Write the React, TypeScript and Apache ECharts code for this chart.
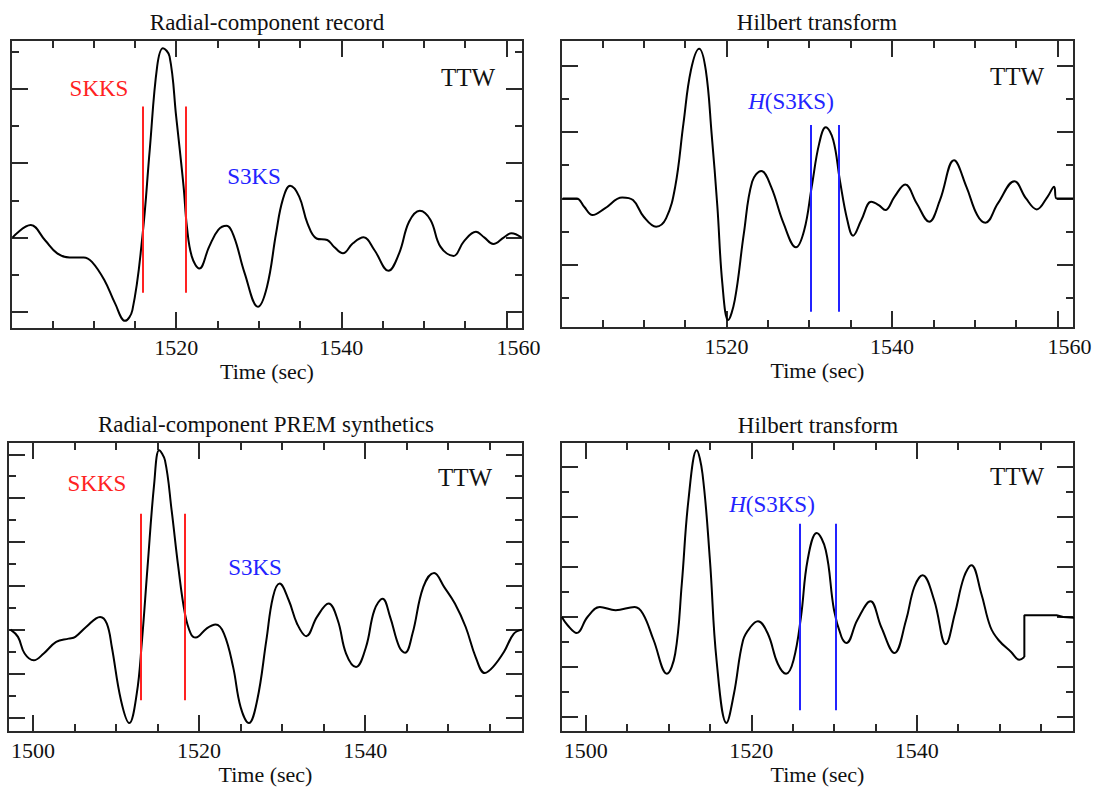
import React, { useEffect, useRef } from "react";
import * as echarts from "echarts";

const FONT = '"Liberation Serif", "Times New Roman", serif';

// ---------- data (time in s, amplitude in tick units) ----------
const panelTitles = [
  "Radial-component record",
  "Hilbert transform",
  "Radial-component PREM synthetics",
  "Hilbert transform",
];

const recordTrace: [number, number][] = [
  [1500.2, 0], [1502.4, 0.33], [1504.1, -0.07], [1505.6, -0.43], [1507.1, -0.54],
  [1508.8, -0.54], [1509.8, -0.66], [1511.3, -1.15], [1512.6, -1.78], [1513.8, -2.25],
  [1514.7, -1.96], [1515.9, 0], [1516.8, 2.36], [1517.7, 4.61], [1518.4, 5.1],
  [1519.2, 4.88], [1520.0, 3.26], [1520.9, 1.37], [1521.3, 0.29], [1521.9, -0.52],
  [1522.8, -0.84], [1524.0, -0.25], [1525.1, 0.2], [1526.1, 0.31], [1527.0, 0.02],
  [1528.3, -0.97], [1529.9, -1.87], [1531.0, -1.33], [1532.1, 0.11], [1532.9, 1.01],
  [1533.8, 1.39], [1534.9, 1.1], [1535.9, 0.38], [1537.0, -0.03], [1538.3, -0.07],
  [1539.1, -0.25], [1540.2, -0.43], [1541.4, -0.16], [1542.7, 0], [1544.0, -0.34],
  [1545.7, -0.9], [1547.0, -0.43], [1548.2, 0.42], [1549.5, 0.72], [1550.8, 0.47],
  [1552.0, -0.25], [1553.6, -0.5], [1554.8, -0.12], [1556.3, 0.15], [1557.3, 0],
  [1558.4, -0.18], [1559.7, 0], [1560.6, 0.11], [1561.8, 0],
];

const recordHilbertTrace: [number, number][] = [
  [1500.2, 0], [1501.9, 0], [1502.8, -0.25], [1503.8, -0.5], [1505.3, -0.3],
  [1507.4, 0.03], [1508.7, -0.05], [1510.0, -0.55], [1511.5, -0.85], [1512.7, -0.6],
  [1513.8, 0.35], [1514.8, 2.26], [1515.7, 3.86], [1516.7, 4.51], [1517.5, 3.86],
  [1518.2, 1.96], [1518.9, -0.25], [1519.5, -2.56], [1520.2, -3.66], [1521.0, -3.06],
  [1522.1, -1.05], [1523.1, 0.5], [1524.2, 0.83], [1525.4, 0.35], [1526.9, -0.75],
  [1528.4, -1.47], [1529.4, -0.95], [1530.3, 0.35], [1531.2, 1.65], [1532.0, 2.14],
  [1532.9, 1.76], [1533.7, 0.55], [1534.6, -0.65], [1535.3, -1.12], [1536.3, -0.65],
  [1537.5, -0.1], [1538.4, -0.2], [1539.2, -0.35], [1540.3, 0.05], [1541.6, 0.42],
  [1543.0, -0.15], [1544.5, -0.7], [1545.8, -0.05], [1547.5, 1.15], [1549.0, 0.35],
  [1550.3, -0.5], [1551.3, -0.73], [1552.8, -0.15], [1554.8, 0.52], [1556.2, 0],
  [1557.5, -0.33], [1558.8, 0.05], [1559.6, 0.35], [1559.9, 0], [1561.9, 0],
];

const synthTrace: [number, number][] = [
  [1497.3, 0], [1498.2, -0.33], [1499.0, -1.09], [1500.1, -1.4], [1501.3, -1.09],
  [1502.8, -0.56], [1504.3, -0.41], [1505.1, -0.33], [1506.4, 0.12], [1508.1, 0.58],
  [1508.9, 0.27], [1509.5, -0.79], [1510.6, -3.22], [1511.6, -4.26], [1512.5, -2.92],
  [1513.1, -0.64], [1513.8, 2.86], [1514.6, 6.66], [1515.2, 8.18], [1515.9, 7.72],
  [1516.7, 5.44], [1517.5, 2.86], [1518.3, 0.73], [1519.0, -0.18], [1519.6, -0.36],
  [1520.9, 0.05], [1522.0, 0.23], [1523.0, -0.18], [1524.1, -1.7], [1525.0, -3.53],
  [1526.0, -4.26], [1527.0, -3.22], [1528.1, -0.49], [1528.9, 1.49], [1529.7, 2.1],
  [1530.8, 1.34], [1531.8, 0.27], [1532.9, -0.3], [1534.2, 0.58], [1535.6, 1.19],
  [1536.7, 0.43], [1537.7, -1.09], [1538.9, -1.7], [1540.1, -0.79], [1541.1, 0.88],
  [1542.1, 1.41], [1543.0, 0.58], [1544.1, -0.79], [1544.8, -1.06], [1545.7, -0.18],
  [1547.0, 1.95], [1548.3, 2.58], [1549.5, 1.95], [1550.8, 1.19], [1552.1, 0.12],
  [1553.3, -1.25], [1554.4, -1.98], [1555.4, -1.7], [1556.7, -1.02], [1557.9, -0.18],
  [1558.9, 0],
];

const synthHilbertTrace: [number, number][] = [
  [1497.1, 0], [1497.8, -0.33], [1498.9, -0.64], [1500.2, 0], [1501.7, 0.4],
  [1503.6, 0.27], [1505.9, 0.4], [1506.9, 0.13], [1508.2, -0.93], [1509.8, -2.27],
  [1510.8, -1.47], [1511.6, 1.33], [1512.4, 4.67], [1513.4, 6.67], [1514.1, 5.73],
  [1515.0, 2.27], [1515.8, -1.73], [1517.0, -4.24], [1517.9, -3.07], [1519.0, -0.93],
  [1519.9, -0.4], [1520.8, -0.17], [1522.0, -0.67], [1523.2, -1.87], [1524.2, -2.27],
  [1525.1, -1.73], [1526.0, 0], [1526.8, 2.27], [1527.9, 3.36], [1529.0, 2.67],
  [1530.0, 0.27], [1530.9, -0.8], [1531.5, -1.04], [1532.8, -0.13], [1534.4, 0.63],
  [1535.7, -0.4], [1537.3, -1.44], [1538.7, -0.13], [1539.7, 1.2], [1540.7, 1.67],
  [1542.1, 0.67], [1543.5, -1.09], [1544.6, 0.13], [1545.7, 1.6], [1546.6, 2.07],
  [1547.8, 0.93], [1548.9, -0.4], [1549.9, -0.93], [1551.4, -1.4], [1552.4, -1.71],
  [1553.0, -1.6],
];

const synthHilbertTail: [number, number][] = [
  [1553.0, -1.6], [1553.0, 0.07], [1556.9, 0.07], [1557.7, 0], [1559.0, -0.03],
];

// phase window markers: [time, lowAmp, highAmp]
const recordSKKSWindow: [number, number, number][] = [[1515.9, -1.49, 3.53], [1521.2, -1.49, 3.53]];
const recordHS3KSWindow: [number, number, number][] = [[1530.2, -3.41, 2.21], [1533.6, -3.41, 2.21]];
const synthSKKSWindow: [number, number, number][] = [[1513.0, -3.22, 5.29], [1518.3, -3.22, 5.29]];
const synthHS3KSWindow: [number, number, number][] = [[1525.8, -3.73, 3.73], [1530.2, -3.73, 3.73]];

// axis ticks
const recXMajor = [1520, 1540, 1560];
const recXMinor = [1505, 1510, 1515, 1525, 1530, 1535, 1545, 1550, 1555];
const recXLabels = [1520, 1540, 1560];
const synXMajor = [1500, 1520, 1540];
const synXMinor = [1505, 1510, 1515, 1525, 1530, 1535, 1545, 1550, 1555];
const synXLabels = [1500, 1520, 1540];

const p1YMajor = [-2, 0, 2, 4];
const p1YMinor = [-1, 1, 3, 5];
const p2YMajor = [-2, 0, 2, 4];
const p2YMinor = [-3, -1, 1, 3];
const p3YMajor = [-4, -2, 0, 2, 4, 6, 8];
const p3YMinor = [-3, -1, 1, 3, 5, 7];
const p4YMajor = [-4, -2, 0, 2, 4, 6];
const p4YMinor = [-3, -1, 1, 3, 5];

// ---------- layout ----------
const RED = "#ff2222";
const BLUE = "#2323ff";
const INK = "#111";
const AXIS = "#2a2a2a";

type Panel = {
  grid: { left: number; top: number; width: number; height: number };
  x: [number, number];
  y: [number, number];
  xMajor: number[];
  xMinor: number[];
  xLabels: number[];
  yMajor: number[];
  yMinor: number[];
};

const panels: Panel[] = [
  { grid: { left: 11, top: 40, width: 512, height: 289 }, x: [1500, 1562], y: [-2.47, 5.32],
    xMajor: recXMajor, xMinor: recXMinor, xLabels: recXLabels, yMajor: p1YMajor, yMinor: p1YMinor },
  { grid: { left: 561, top: 40, width: 513, height: 288 }, x: [1500, 1562], y: [-3.9, 4.77],
    xMajor: recXMajor, xMinor: recXMinor, xLabels: recXLabels, yMajor: p2YMajor, yMinor: p2YMinor },
  { grid: { left: 8, top: 442, width: 515, height: 290 }, x: [1497, 1559], y: [-4.67, 8.56],
    xMajor: synXMajor, xMinor: synXMinor, xLabels: synXLabels, yMajor: p3YMajor, yMinor: p3YMinor },
  { grid: { left: 561, top: 442, width: 513, height: 290 }, x: [1497, 1559], y: [-4.6, 7.0],
    xMajor: synXMajor, xMinor: synXMinor, xLabels: synXLabels, yMajor: p4YMajor, yMinor: p4YMinor },
];

function buildOption() {
  const grids: any[] = [];
  const xAxes: any[] = [];
  const yAxes: any[] = [];
  const mainX: number[] = [];
  const mainY: number[] = [];

  panels.forEach((p, gi) => {
    grids.push({
      ...p.grid,
      show: true,
      borderColor: AXIS,
      borderWidth: 2,
      backgroundColor: "transparent",
      containLabel: false,
    });
    const tickStyle = { color: AXIS, width: 2 };
    const base = (vals: number[], len: number) => ({
      gridIndex: gi,
      type: "value",
      min: p.x[0],
      max: p.x[1],
      axisLine: { show: false, onZero: false },
      splitLine: { show: false },
      axisTick: { show: true, inside: true, length: len, customValues: vals, lineStyle: tickStyle },
      axisLabel: { show: false },
    });
    mainX.push(xAxes.length);
    xAxes.push({
      ...base(p.xMajor, 17),
      position: "bottom",
      axisLabel: {
        show: true,
        customValues: p.xLabels,
        margin: 7,
        color: INK,
        fontFamily: FONT,
        fontSize: 22,
        formatter: (v: number) => (gi < 2 && v === 1560 ? "{r|1560}" : String(v)),
        rich: { r: { padding: [0, 0, 0, 24], color: INK, fontFamily: FONT, fontSize: 22 } },
      },
      name: "Time (sec)",
      nameLocation: "middle",
      nameGap: 31,
      nameTextStyle: { color: INK, fontFamily: FONT, fontSize: 22, verticalAlign: "top" },
    });
    xAxes.push({ ...base(p.xMinor, 8), position: "bottom" });
    xAxes.push({ ...base(p.xMajor, 17), position: "top" });
    xAxes.push({ ...base(p.xMinor, 8), position: "top" });

    const ybase = (vals: number[], len: number, pos: string) => ({
      gridIndex: gi,
      type: "value",
      position: pos,
      min: p.y[0],
      max: p.y[1],
      axisLine: { show: false, onZero: false },
      splitLine: { show: false },
      axisTick: { show: true, inside: true, length: len, customValues: vals, lineStyle: tickStyle },
      axisLabel: { show: false },
    });
    mainY.push(yAxes.length);
    yAxes.push(ybase(p.yMajor, 17, "left"));
    yAxes.push(ybase(p.yMinor, 8, "left"));
    yAxes.push(ybase(p.yMajor, 17, "right"));
    yAxes.push(ybase(p.yMinor, 8, "right"));
  });

  const windowLines = (w: [number, number, number][]) =>
    w.map(([t, lo, hi]) => [{ coord: [t, lo] }, { coord: [t, hi] }]);

  const traceSeries = (gi: number, data: [number, number][], smooth: boolean, mark?: any) => ({
    type: "line",
    xAxisIndex: mainX[gi],
    yAxisIndex: mainY[gi],
    data,
    smooth: smooth ? 0.4 : false,
    showSymbol: false,
    symbol: "none",
    lineStyle: { color: "#000", width: 2 },
    z: 3,
    ...(mark
      ? {
          markLine: {
            silent: true,
            symbol: ["none", "none"],
            label: { show: false },
            lineStyle: { color: mark.color, width: 2, type: "solid" },
            data: windowLines(mark.window),
            z: 4,
          },
        }
      : {}),
  });

  const series = [
    traceSeries(0, recordTrace, true, { color: RED, window: recordSKKSWindow }),
    traceSeries(1, recordHilbertTrace, true, { color: BLUE, window: recordHS3KSWindow }),
    traceSeries(2, synthTrace, true, { color: RED, window: synthSKKSWindow }),
    traceSeries(3, synthHilbertTrace, true, { color: BLUE, window: synthHS3KSWindow }),
    traceSeries(3, synthHilbertTail, false),
  ];

  const txt = (text: string, x: number, y: number, fill: string, size: number, rich?: any) => ({
    type: "text",
    x,
    y,
    silent: true,
    style: {
      text,
      fill,
      font: `${size}px ${FONT}`,
      align: "center",
      verticalAlign: "middle",
      ...(rich ? { rich } : {}),
    },
  });

  const hRich = {
    i: { fontStyle: "italic", fontFamily: FONT, fontSize: 23, fill: BLUE, color: BLUE },
    n: { fontFamily: FONT, fontSize: 23, fill: BLUE, color: BLUE },
  };

  const graphic = [
    txt(panelTitles[0], 267, 22, INK, 23),
    txt(panelTitles[1], 817, 22, INK, 23),
    txt(panelTitles[2], 266, 424, INK, 23),
    txt(panelTitles[3], 818, 425, INK, 23),
    txt("TTW", 468, 77, INK, 25),
    txt("TTW", 1017, 76, INK, 25),
    txt("TTW", 465, 477, INK, 25),
    txt("TTW", 1017, 476, INK, 25),
    txt("SKKS", 99, 88, RED, 23),
    txt("S3KS", 254, 176, BLUE, 23),
    txt("SKKS", 97, 483, RED, 23),
    txt("S3KS", 255, 567, BLUE, 23),
    txt("{i|H}{n|(S3KS)}", 791, 101, BLUE, 23, hRich),
    txt("{i|H}{n|(S3KS)}", 772, 504, BLUE, 23, hRich),
  ];

  return {
    animation: false,
    backgroundColor: "#ffffff",
    grid: grids,
    xAxis: xAxes,
    yAxis: yAxes,
    series,
    graphic,
  };
}

export default function App() {
  const ref = useRef<HTMLDivElement>(null);
  useEffect(() => {
    if (!ref.current) return;
    const chart = echarts.init(ref.current, undefined, { renderer: "svg" });
    chart.setOption(buildOption() as any);
    return () => chart.dispose();
  }, []);
  return (
    <div
      ref={ref}
      style={{ position: "fixed", left: 0, top: 0, width: 1099, height: 790, background: "#fff" }}
    />
  );
}
